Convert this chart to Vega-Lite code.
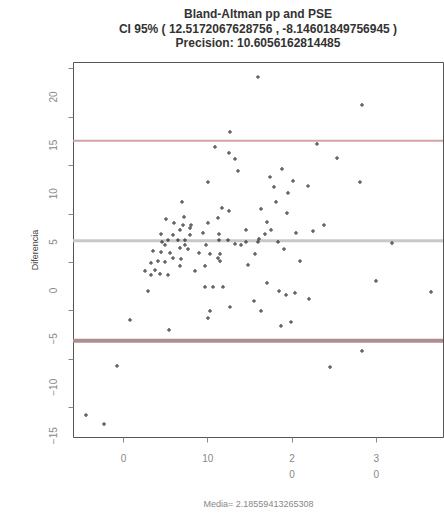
{
  "$schema": "https://vega.github.io/schema/vega-lite/v6.json",
  "autosize": {"type": "none"},
  "width": 370,
  "height": 375,
  "padding": {"left": 73, "top": 62, "right": 1, "bottom": 84},
  "background": "white",
  "config": {
    "view": {"stroke": "#555555", "strokeWidth": 1},
    "font": "Liberation Sans"
  },
  "title": {
    "text": ["Bland-Altman  pp and PSE", "CI 95% ( 12.5172067628756 , -8.14601849756945 )", "Precision:  10.6056162814485"],
    "fontSize": 12,
    "fontWeight": "bold",
    "font": "Liberation Sans",
    "color": "#333333",
    "lineHeight": 14.5,
    "anchor": "middle",
    "offset": 12
  },
  "datasets": {
    "pts": [
      {"media": 16.01, "dif": 19.11}, {"media": 12.69, "dif": 13.43}, {"media": 10.91, "dif": 11.88},
      {"media": 12.57, "dif": 11.26}, {"media": 13.29, "dif": 10.64}, {"media": 13.64, "dif": 9.40},
      {"media": 10.08, "dif": 8.26}, {"media": 7.00, "dif": 6.20}, {"media": 11.74, "dif": 5.58},
      {"media": 12.57, "dif": 5.27}, {"media": 16.37, "dif": 5.48}, {"media": 11.27, "dif": 4.55},
      {"media": 5.10, "dif": 4.44}, {"media": 6.05, "dif": 4.03}, {"media": 7.24, "dif": 4.65},
      {"media": 7.12, "dif": 3.82}, {"media": 8.07, "dif": 3.82}, {"media": 10.08, "dif": 4.03},
      {"media": 6.76, "dif": 3.31}, {"media": 7.95, "dif": 2.79}, {"media": 9.49, "dif": 3.00},
      {"media": 11.39, "dif": 2.89}, {"media": 14.59, "dif": 3.31}, {"media": 4.51, "dif": 2.89},
      {"media": 5.93, "dif": 2.79}, {"media": 5.34, "dif": 2.27}, {"media": 6.52, "dif": 2.27},
      {"media": 7.35, "dif": 1.76}, {"media": 4.98, "dif": 1.76}, {"media": 9.85, "dif": 1.76},
      {"media": 14.59, "dif": 2.07}, {"media": 16.01, "dif": 2.07}, {"media": 6.76, "dif": 1.45},
      {"media": 7.71, "dif": 1.34}, {"media": 13.29, "dif": 1.86}, {"media": 14.00, "dif": 1.76},
      {"media": 28.35, "dif": 16.22}, {"media": 23.01, "dif": 12.19}, {"media": 25.39, "dif": 10.74},
      {"media": 18.86, "dif": 9.61}, {"media": 17.44, "dif": 8.78}, {"media": 20.17, "dif": 8.37},
      {"media": 17.91, "dif": 7.75}, {"media": 21.95, "dif": 7.85}, {"media": 28.11, "dif": 8.26},
      {"media": 19.57, "dif": 7.13}, {"media": 18.15, "dif": 6.20}, {"media": 19.45, "dif": 5.06},
      {"media": 17.08, "dif": 4.13}, {"media": 23.84, "dif": 3.82}, {"media": 22.54, "dif": 3.20},
      {"media": 20.52, "dif": 3.00}, {"media": 17.56, "dif": 3.31}, {"media": 16.84, "dif": 2.89},
      {"media": 16.13, "dif": 2.38}, {"media": 19.10, "dif": 1.34}, {"media": 18.39, "dif": 2.07},
      {"media": 31.91, "dif": 1.96}, {"media": 3.56, "dif": 1.14}, {"media": 4.51, "dif": 1.03},
      {"media": 5.58, "dif": 0.93}, {"media": 9.02, "dif": 0.93}, {"media": 10.32, "dif": 0.83},
      {"media": 11.51, "dif": 0.83}, {"media": 15.66, "dif": 0.83}, {"media": 5.93, "dif": 0.41},
      {"media": 6.88, "dif": 0.31}, {"media": 3.32, "dif": -0.10}, {"media": 4.98, "dif": 0.00},
      {"media": 4.15, "dif": 0.10}, {"media": 9.73, "dif": -0.41}, {"media": 11.51, "dif": 0.10},
      {"media": 14.83, "dif": -0.31}, {"media": 2.61, "dif": -0.93}, {"media": 3.80, "dif": -0.83},
      {"media": 3.32, "dif": -1.34}, {"media": 4.39, "dif": -1.24}, {"media": 5.34, "dif": -1.34},
      {"media": 6.76, "dif": -0.41}, {"media": 8.54, "dif": -0.93}, {"media": 9.73, "dif": -2.58},
      {"media": 10.68, "dif": -2.58}, {"media": 11.86, "dif": -2.58}, {"media": 15.54, "dif": -4.03},
      {"media": 12.69, "dif": -4.65}, {"media": 10.32, "dif": -5.06}, {"media": 10.08, "dif": -5.79},
      {"media": 0.83, "dif": -5.99}, {"media": 5.46, "dif": -7.02}, {"media": -0.71, "dif": -10.74},
      {"media": -4.39, "dif": -15.81}, {"media": -2.25, "dif": -16.74}, {"media": 21.00, "dif": 0.10},
      {"media": 17.08, "dif": -2.17}, {"media": 18.51, "dif": -3.00}, {"media": 19.34, "dif": -3.41},
      {"media": 20.40, "dif": -3.20}, {"media": 22.06, "dif": -3.82}, {"media": 16.37, "dif": -5.06},
      {"media": 19.93, "dif": -6.20}, {"media": 18.74, "dif": -6.61}, {"media": 30.01, "dif": -1.96},
      {"media": 36.54, "dif": -3.10}, {"media": 28.35, "dif": -9.19}, {"media": 24.56, "dif": -10.85},
      {"media": 4.63, "dif": 2.07}, {"media": 7.35, "dif": 2.27}, {"media": 7.95, "dif": 3.51},
      {"media": 11.39, "dif": 2.27}, {"media": 11.27, "dif": 0.41}, {"media": 12.46, "dif": 2.27},
      {"media": 2.97, "dif": -3.00}
    ],
    "lines": [
      {"dif": 12.5172067628756, "kind": "upper"},
      {"dif": 2.18559413265308, "kind": "mean"},
      {"dif": -8.14601849756945, "kind": "lower"}
    ]
  },
  "layer": [
    {
      "data": {"name": "lines"},
      "mark": {"type": "rule"},
      "encoding": {
        "y": {"field": "dif", "type": "quantitative"},
        "color": {
          "field": "kind", "type": "nominal", "legend": null,
          "scale": {"domain": ["upper", "mean", "lower"], "range": ["#d4a3a6", "#c8c8c8", "#b08e90"]}
        },
        "strokeWidth": {
          "field": "kind", "type": "nominal", "legend": null,
          "scale": {"domain": ["upper", "mean", "lower"], "range": [2, 4, 2]}
        }
      }
    },
    {
      "data": {"name": "pts"},
      "mark": {"type": "point", "shape": "cross", "filled": true, "size": 14, "color": "#333333", "opacity": 0.8},
      "encoding": {
        "x": {
          "field": "media", "type": "quantitative",
          "scale": {"domain": [-5.93, 37.96], "nice": false, "zero": false},
          "axis": {
            "title": "Media= 2.18559413265308",
            "values": [0, 10, 20, 30],
            "labelExpr": "datum.value >= 20 ? split(datum.label, '') : datum.label",
            "grid": false, "domain": false,
            "tickColor": "#888888", "tickSize": 5,
            "labelColor": "#888888", "labelFontSize": 10, "labelPadding": 11,
            "labelLineHeight": 16,
            "titleColor": "#888888", "titleFontSize": 9, "titleFontWeight": "normal",
            "titlePadding": 20
          }
        },
        "y": {
          "field": "dif", "type": "quantitative",
          "scale": {"domain": [-18.08, 20.66], "nice": false, "zero": false},
          "axis": {
            "title": "Diferencia",
            "values": [20, 15, 10, 5, 0, -5, -10, -15],
            "grid": false, "domain": false,
            "tickColor": "#888888", "tickSize": 5,
            "labelAngle": -90, "labelAlign": "center", "labelBaseline": "bottom",
            "labelOffset": 28,
            "labelColor": "#888888", "labelFontSize": 10, "labelPadding": 10,
            "titleColor": "#444444", "titleFontSize": 9, "titleFontWeight": "normal",
            "titlePadding": 9
          }
        }
      }
    }
  ]
}
